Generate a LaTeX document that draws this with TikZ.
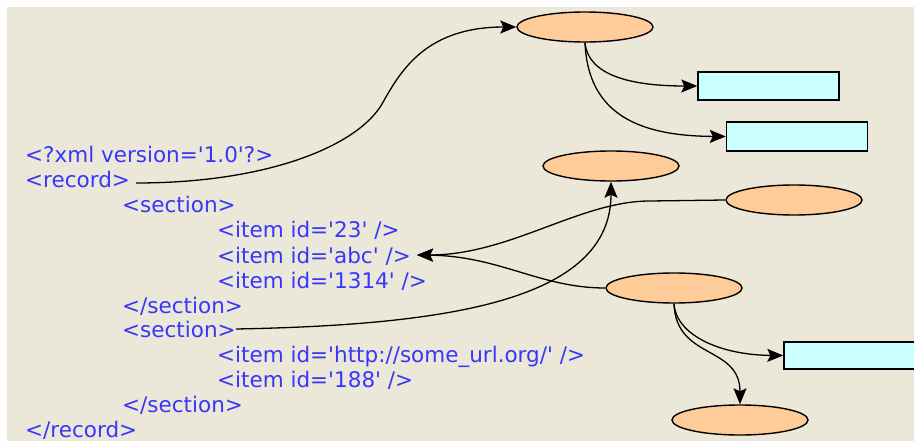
\documentclass[tikz,border=0pt]{standalone}
\usepackage{fontspec}
\newfontfamily\codefont[Ligatures=TeXOff]{DejaVu Sans}
\usetikzlibrary{shapes.geometric,arrows.meta}
\definecolor{paper}{RGB}{236,232,217}
\definecolor{peach}{RGB}{255,204,153}
\definecolor{paleaqua}{RGB}{204,255,255}
\definecolor{codeblue}{RGB}{55,55,250}
\tikzset{
  code/.style={anchor=base west, inner sep=0pt, text=codeblue,
    font=\codefont\fontsize{21.5}{25}\selectfont},
  elem/.style={ellipse, draw=black, line width=1.4pt, fill=peach,
    minimum width=136pt, minimum height=30pt, inner sep=0pt},
  leaf/.style={rectangle, draw=black, line width=1.4pt, fill=paleaqua,
    minimum width=141pt, minimum height=28pt, inner sep=0pt},
  link/.style={draw=black, line width=1.3pt,
    -{Stealth[length=16pt,width=13pt,inset=3pt]}},
}
\begin{document}
\begin{tikzpicture}[x=1pt,y=-1pt]
  % canvas
  \fill[white] (0,0) rectangle (914,441);
  \fill[paper] (7,7) rectangle (914,441);
  \useasboundingbox (0,0) rectangle (914,441);

  % XML source
  \node[code] (xmldecl) at (25,163) {<?xml version='1.0'?>};
  \node[code] (rec)     at (25,188) {<record>};
  \node[code] (sec1)    at (122,213) {<section>};
  \node[code] (item23)  at (217,238) {<item id='23' />};
  \node[code] (itemabc) at (217,263) {<item id='abc' />};
  \node[code] (item1314) at (217,288) {<item id='1314' />};
  \node[code] (sec1end) at (122,313) {</section>};
  \node[code] (sec2)    at (122,337) {<section>};
  \node[code] (itemurl) at (217,362) {<item id='http://some\_url.org/' />};
  \node[code] (item188) at (217,387) {<item id='188' />};
  \node[code] (sec2end) at (122,412) {</section>};
  \node[code] (recend)  at (25,437) {</record>};

  % tree nodes
  \node[elem] (e1) at (585,27) {};
  \node[elem] (e2) at (611,166) {};
  \node[elem] (e3) at (794,200) {};
  \node[elem] (e4) at (674,288) {};
  \node[elem] (e5) at (740,420) {};
  \node[leaf] (r1) at (768.5,86) {};
  \node[leaf, minimum height=29pt] (r2) at (797,136.5) {};
  \node[leaf, minimum height=27pt] (r3) at (854.5,355.5) {};

  % connectors
  \draw[link] ([shift={(6,-5)}]rec.base east)
      .. controls (270,183) and (358,145) .. (382,104)
      .. controls (400,72) and (425,27) .. (e1.west);
  \draw[link] (e1.south) .. controls (588,75) and (630,86) .. (r1.west);
  \draw[link] (e1.south) .. controls (588,115) and (640,136) .. (r2.west);
  \draw[link] ([shift={(0,-8)}]sec2.base east)
      .. controls (450,325) and (611,300) .. (e2.south);
  \draw[link] (e3.west) -- (650,201)
      .. controls (580,201) and (510,255) .. ([shift={(6,-8)}]itemabc.base east);
  \draw[link] (e4.west) .. controls (540,288) and (500,256)
      .. ([shift={(6,-8)}]itemabc.base east);
  \draw[link] (e4.south) .. controls (676,335) and (720,355) .. (r3.west);
  \draw[link] (e4.south) .. controls (676,360) and (740,345) .. (e5.north);
\end{tikzpicture}
\end{document}
